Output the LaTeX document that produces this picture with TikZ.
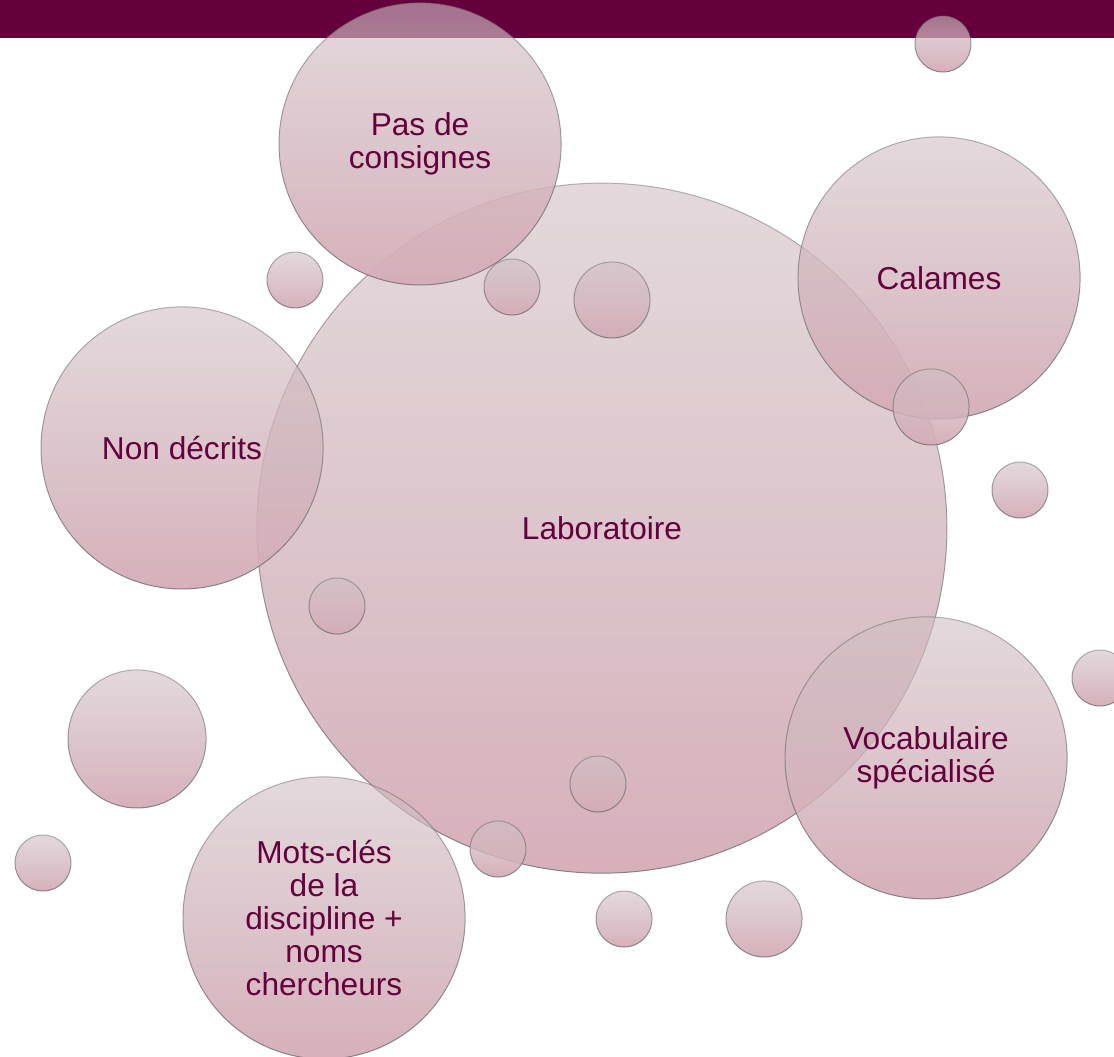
\documentclass[tikz,border=0pt]{standalone}
\usepackage{fontspec}
\setmainfont{Liberation Sans}
\usepackage{xcolor}
\usepackage{tikz}
\usetikzlibrary{fadings}
\definecolor{plum}{HTML}{66003C}
\definecolor{bubtop}{RGB}{208,191,196}
\definecolor{bubbot}{RGB}{213,172,184}
\definecolor{bubline}{HTML}{6E6E6E}
\newcommand{\bubfont}{\fontsize{22.5}{23.5}\selectfont}
\tikzfading[name=bubfade, top color=transparent!40, bottom color=transparent!4]
\tikzset{
  bubble/.style={circle, top color=bubtop, bottom color=bubbot,
    path fading=bubfade,
    postaction={draw=bubline, line width=0.7pt, draw opacity=0.85, path fading},
    inner sep=0pt, outer sep=0pt, text=plum, font=\bubfont, align=center},
  hub/.style={bubble, minimum size=17.25cm},
  topic/.style={bubble, minimum size=7.05cm},
  dot/.style={bubble, minimum size=1.4cm},
  middot/.style={bubble, minimum size=1.9cm},
  bigdot/.style={bubble, minimum size=3.45cm}
}

\begin{document}
\begin{tikzpicture}[x=0.025cm, y=-0.025cm]
\useasboundingbox (0,0) rectangle (1114,1057);
\clip (0,0) rectangle (1114,1057);
\fill[plum] (0,0) rectangle (1114,38);

% central bubble
\node (labo) [hub] at (602,528) {Laboratoire};

% bubbles with a label
\node (consignes)  [topic] at (420,144) {Pas de\\consignes};
\node (calames)    [topic] at (939,278) {Calames};
\node (nondecrits) [topic] at (182,448) {Non décrits};
\node (vocab)      [topic] at (926,758) {Vocabulaire\\spécialisé};
\node (motscles)   [topic] at (324,918) {Mots-clés\\de la\\discipline +\\noms\\chercheurs};

% empty bubbles
\node (d1)  [dot]    at (943,44)  {};
\node (d2)  [dot]    at (295,280) {};
\node (d3)  [dot]    at (512,287) {};
\node (d4)  [middot] at (612,300) {};
\node (d5)  [middot] at (931,407) {};
\node (d6)  [dot]    at (1020,490) {};
\node (d7)  [dot]    at (337,606) {};
\node (d8)  [dot]    at (1100,678) {};
\node (d9)  [bigdot] at (137,739) {};
\node (d10) [dot]    at (598,784) {};
\node (d11) [dot]    at (498,849) {};
\node (d12) [dot]    at (43,863)  {};
\node (d13) [dot]    at (624,919) {};
\node (d14) [middot] at (764,919) {};
\end{tikzpicture}
\end{document}
